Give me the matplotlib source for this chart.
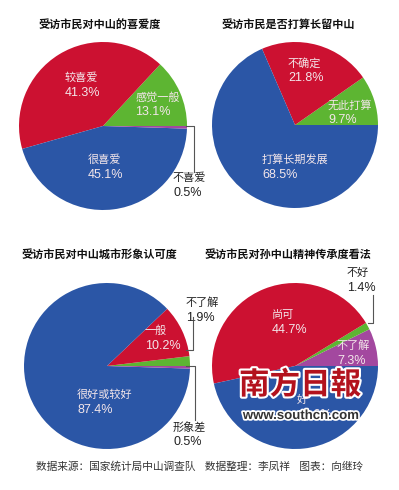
import matplotlib
matplotlib.use('Agg')
import matplotlib.pyplot as plt
import matplotlib.patheffects as pe

plt.rcParams['font.family'] = ['Noto Sans CJK SC', 'DejaVu Sans']

W, H = 399, 490

RED = '#CC1131'
GREEN = '#5DB532'
BLUE = '#2B56A6'
PURPLE = '#A3489F'

# pie 1: 受访市民对中山的喜爱度
love_labels = ['感觉一般', '较喜爱', '很喜爱', '不喜爱']
love_values = [13.1, 41.3, 45.1, 0.5]

# pie 2: 受访市民是否打算长留中山
stay_labels = ['无此打算', '不确定', '打算长期发展']
stay_values = [9.7, 21.8, 68.5]

# pie 3: 受访市民对中山城市形象认可度
image_labels = ['不了解', '一般', '很好或较好', '形象差']
image_values = [1.9, 10.2, 87.4, 0.5]

# pie 4: 受访市民对孙中山精神传承度看法
spirit_labels = ['不了解', '不好', '尚可', '好']
spirit_values = [7.3, 1.4, 44.7, 46.6]

titles = ['受访市民对中山的喜爱度', '受访市民是否打算长留中山',
          '受访市民对中山城市形象认可度', '受访市民对孙中山精神传承度看法']


def P(x, y):
    # pixel position (from top-left) -> data coords
    return x, H - y


fig = plt.figure(figsize=(W / 100, H / 100), dpi=100)
fig.patch.set_facecolor('white')
ax = fig.add_axes([0, 0, 1, 1])

# layout: (values, colors, center px, radius, title pos)
pies = [
    (love_values, [GREEN, RED, BLUE, PURPLE], (103, 126), 84, (39, 25)),
    (stay_values, [GREEN, RED, BLUE], (295, 125), 83, (222, 25)),
    (image_values, [GREEN, RED, BLUE, PURPLE], (107, 366), 83, (22, 255)),
    (spirit_values, [PURPLE, GREEN, RED, BLUE], (295, 366), 83, (205, 255)),
]

for (vals, cols, c, r, tpos), title in zip(pies, titles):
    ax.pie(vals, colors=cols, startangle=0, counterclock=True,
           center=P(*c), radius=r, frame=True,
           wedgeprops=dict(linewidth=0))
    ax.text(*P(*tpos), title, fontsize=8, fontweight='bold',
            ha='left', va='center', color='#111111')

# label layout: (text, value, left x, y of first line, inside?)
label_pos = [
    (love_labels[1], love_values[1], 65, 78, True),
    (love_labels[0], love_values[0], 135, 97, True),
    (love_labels[2], love_values[2], 88, 160, True),
    (love_labels[3], love_values[3], 173, 178, False),
    (stay_labels[1], stay_values[1], 288, 63, True),
    (stay_labels[0], stay_values[0], 328, 105, True),
    (stay_labels[2], stay_values[2], 262, 160, True),
    (image_labels[1], image_values[1], 145, 331, True),
    (image_labels[2], image_values[2], 77, 395, True),
    (image_labels[0], image_values[0], 186, 303, False),
    (image_labels[3], image_values[3], 173, 427, False),
    (spirit_labels[1], spirit_values[1], 347, 273, False),
    (spirit_labels[2], spirit_values[2], 272, 315, True),
    (spirit_labels[0], spirit_values[0], 337, 346, True),
    (spirit_labels[3], spirit_values[3], 297, 400, True),
]

for name, val, x, y, inside in label_pos:
    col = '#F3E6EA' if inside else '#222222'
    ax.text(*P(x, y), name, fontsize=8, ha='left', va='center', color=col)
    ax.text(*P(x, y + 15), f'{val}%', fontsize=9, ha='left', va='center',
            color=col, family=['Liberation Sans'])

# leader lines
leaders = [
    [(186, 126), (194, 126), (194, 172)],
    [(186, 350), (193, 350), (193, 317)],
    [(186, 366), (195, 366), (195, 420)],
    [(368, 323), (373, 323), (373, 295)],
]
for pts in leaders:
    xs = [p[0] for p in pts]
    ys = [H - p[1] for p in pts]
    ax.plot(xs, ys, color='#555555', linewidth=0.8)

# footer
ax.text(*P(200, 467), '数据来源：国家统计局中山调查队    数据整理：李凤祥    图表：向继玲',
        fontsize=7.7, ha='center', va='center', color='#333333')

# watermark
ax.text(*P(300, 385), '南方日報', fontsize=22, fontweight='bold', color='#B3121D',
        ha='center', va='center', zorder=10,
        path_effects=[pe.withStroke(linewidth=3, foreground='white')])
ax.text(*P(301, 416), 'www.southcn.com', fontsize=9.5, fontweight='bold',
        color='#333333', ha='center', va='center', zorder=10,
        family=['Liberation Sans'],
        path_effects=[pe.withStroke(linewidth=2.5, foreground='white')])

ax.set_xlim(0, W)
ax.set_ylim(0, H)
ax.set_aspect('equal')
ax.axis('off')

fig.savefig('out.png', dpi=100, facecolor='white')
